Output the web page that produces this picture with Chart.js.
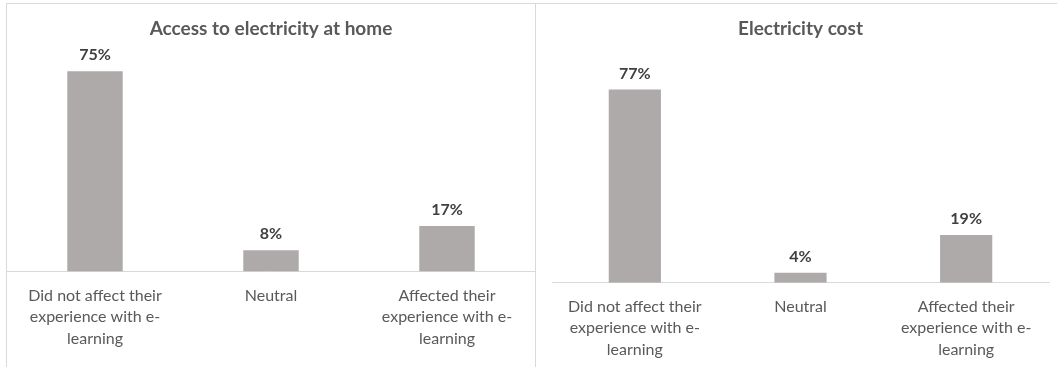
<!DOCTYPE html>
<html>
<head>
<meta charset="utf-8">
<script src="https://cdn.jsdelivr.net/npm/chart.js@4"></script>
<style>
  body { margin: 0; background: #fff; }
  .panel {
    position: absolute;
    top: 3px;
    height: 364px;
    border-top: 1px solid #d9d9d9;
    border-left: 1px solid #d9d9d9;
  }
  #panel-access { left: 6px; width: 529px; }
  #panel-cost { left: 535px; width: 522px; }
  canvas { display: block; }
</style>
</head>
<body>
<div class="panel" id="panel-access"><canvas id="accessChart" width="528" height="363"></canvas></div>
<div class="panel" id="panel-cost"><canvas id="costChart" width="521" height="363"></canvas></div>

<script>
const categories = [
  ["Did not affect their", "experience with e-", "learning"],
  "Neutral",
  ["Affected their", "experience with e-", "learning"],
];
const accessValues = [75, 8, 17];
const costValues = [77, 4, 19];

const fontFamily = "Lato, 'Open Sans', sans-serif";

// writes the percentage above each bar
const valueLabels = {
  id: "valueLabels",
  afterDatasetsDraw(chart) {
    const ctx = chart.ctx;
    const data = chart.data.datasets[0].data;
    ctx.save();
    ctx.font = "bold 16px " + fontFamily;
    ctx.fillStyle = "#404040";
    ctx.textAlign = "center";
    ctx.textBaseline = "middle";
    chart.getDatasetMeta(0).data.forEach((bar, i) => {
      ctx.fillText(data[i] + "%", bar.x, bar.y - 16);
    });
    ctx.restore();
  },
};

function makeChart(id, title, values, yMax, opts) {
  return new Chart(id, {
    type: "bar",
    data: {
      labels: categories,
      datasets: [
        {
          data: values,
          backgroundColor: "#aeaaaa",
          categoryPercentage: 1,
          barPercentage: 0.315,
        },
      ],
    },
    options: {
      responsive: false,
      animation: false,
      layout: { padding: { left: opts.padLeft, right: opts.padRight, top: 0, bottom: 0 } },
      plugins: {
        legend: { display: false },
        tooltip: { enabled: false },
        title: {
          display: true,
          text: title,
          color: "#595959",
          font: { family: fontFamily, size: 19, weight: "bold", lineHeight: 1.2 },
          padding: { top: 13, bottom: opts.titleGap },
        },
      },
      scales: {
        x: {
          grid: { display: false, drawTicks: false },
          border: { display: true, color: "#d9d9d9", width: 1 },
          ticks: {
            color: "#595959",
            padding: 13,
            maxRotation: 0,
            autoSkip: false,
            font: { family: fontFamily, size: 16, lineHeight: 1.36 },
          },
          afterFit(scale) {
            scale.height = opts.axisHeight;
          },
        },
        y: { display: false, min: 0, max: yMax },
      },
    },
    plugins: [valueLabels],
  });
}

makeChart("accessChart", "Access to electricity at home", accessValues, 80, {
  padLeft: 0,
  padRight: 0,
  titleGap: 18,
  axisHeight: 95.5,
});

makeChart("costChart", "Electricity cost", costValues, 90, {
  padLeft: 16,
  padRight: 8,
  titleGap: 17,
  axisHeight: 84.3,
});
</script>
</body>
</html>
